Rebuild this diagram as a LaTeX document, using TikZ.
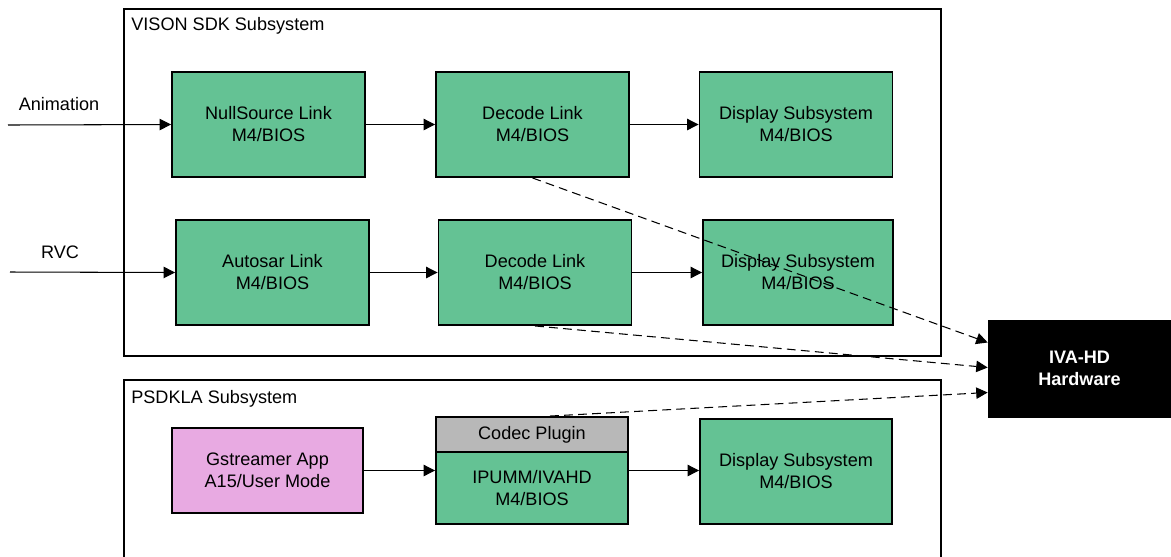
\documentclass[tikz,border=0pt]{standalone}
\usepackage{fontspec}
\setmainfont{Liberation Sans}
\usetikzlibrary{arrows.meta,calc}
\definecolor{linkgreen}{RGB}{100,194,148}
\definecolor{apppink}{RGB}{232,170,226}
\definecolor{plugingray}{RGB}{184,184,184}

\begin{document}
\begin{tikzpicture}[x=0.02cm,y=-0.02cm,
   font=\fontsize{10.3}{12.5}\selectfont,
   frame/.style={line width=1.1pt},
   block/.style={draw,line width=1.1pt,fill=linkgreen,align=center,inner sep=0pt,
     minimum width=3.86cm,minimum height=2.1cm},
   flow/.style={-{Triangle[length=6.5pt,width=6.5pt]},line width=0.6pt},
   hwlink/.style={flow,dash pattern=on 5pt off 3pt}]
   \useasboundingbox (0,0) rectangle (1171,556);

   % subsystem frames
   \draw[frame] (124,9) rectangle (941,356);
   \node[anchor=base west,inner sep=0pt] (vison) at (131,30) {VISON SDK Subsystem};
   \begin{scope}
    \clip (0,0) rectangle (1171,556);
    \draw[frame] (124,570) -- (124,380) -- (941,380) -- (941,570);
   \end{scope}
   \node[anchor=base west,inner sep=0pt] (psdkla) at (131,403) {PSDKLA Subsystem};

   % vision sdk links
   \node[block] (ns) at (268.5,124.5) {NullSource Link\\M4/BIOS};
   \node[block] (dec1) at (532.5,124.5) {Decode Link\\M4/BIOS};
   \node[block] (disp1) at (796,124.5) {Display Subsystem\\M4/BIOS};
   \node[block] (aut) at (272.5,272.5) {Autosar Link\\M4/BIOS};
   \node[block] (dec2) at (535,272.5) {Decode Link\\M4/BIOS};
   \node[block,minimum width=3.8cm] (disp2) at (798,272.5) {Display Subsystem\\M4/BIOS};

   % psdkla
   \node[block,fill=apppink,minimum width=3.82cm,minimum height=1.7cm] (gst) at (267.5,470.5) {Gstreamer App\\A15/User Mode};
   \node[block,fill=plugingray,minimum width=3.84cm,minimum height=0.7cm] (codec) at (532,434.5) {Codec Plugin};
   \node[block,minimum width=3.84cm,minimum height=1.44cm] (ipumm) at (532,488) {IPUMM/IVAHD\\M4/BIOS};
   \node[block,minimum width=3.84cm] (disp3) at (796,471.5) {Display Subsystem\\M4/BIOS};

   \node[draw,fill=black,text=white,font=\fontsize{10.3}{12.5}\selectfont\bfseries,align=center,
     minimum width=3.66cm,minimum height=1.94cm,inner sep=0pt] (iva) at (1079.5,368.5) {IVA-HD\\Hardware};

   % inputs
   \coordinate (anim) at (8,125);
   \coordinate (rvc) at (10,272);
   \node (animlbl) at (59,104) {Animation};
   \node (rvclbl) at (60,252) {RVC};

   \draw[flow] (anim) -- (ns.west);
   \draw[flow] (ns) -- (dec1);
   \draw[flow] (dec1) -- (disp1);
   \draw[flow] (rvc) -- (aut.west);
   \draw[flow] (aut) -- (dec2);
   \draw[flow] (dec2) -- (disp2);
   \draw[flow] (gst.east) -- (gst.east -| ipumm.west);
   \draw[flow] (gst.east -| ipumm.east) -- (gst.east -| disp3.west);

   % to hardware
   \draw[hwlink] (dec1.south) -- ($(iva.west)+(0,-26)$);
   \draw[hwlink] (dec2.south) -- ($(iva.west)+(0,-1)$);
   \draw[hwlink] ($(codec.north)+(18,0)$) -- ($(iva.west)+(0,24)$);
\end{tikzpicture}
\end{document}
